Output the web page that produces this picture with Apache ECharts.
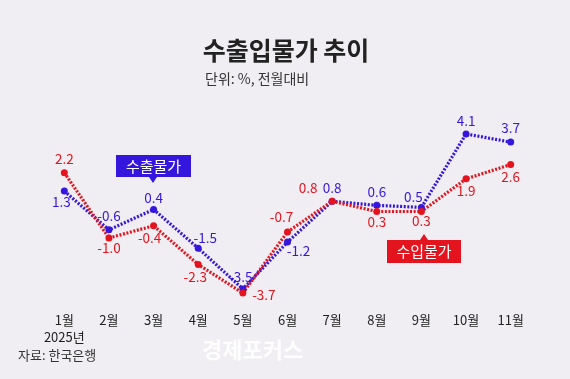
<!DOCTYPE html>
<html><head><meta charset="utf-8">
<script src="https://cdn.jsdelivr.net/npm/echarts@6/dist/echarts.min.js"></script>
<style>html,body{margin:0;padding:0;background:#f0eef2}#c{width:570px;height:379px}</style>
</head><body><div id="c"></div>
<script>
const months = ['1월','2월','3월','4월','5월','6월','7월','8월','9월','10월','11월'];
const exportPrices = [1.3,-0.6,0.4,-1.5,-3.5,-1.2,0.8,0.6,0.5,4.1,3.7];
const importPrices = [2.2,-1.0,-0.4,-2.3,-3.7,-0.7,0.8,0.3,0.3,1.9,2.6];
const exportName = '수출물가';
const importName = '수입물가';

const BLUE = '#3516dc', RED = '#e3141e';
const FONT = '"Noto Sans CJK KR", "Noto Sans", sans-serif';
// label offsets relative to point (style only)
const expOff = [[-3,11],[0,-14],[0,-12],[7,-10],[-2,-12],[11,9],[0,-13],[0,-13],[-8,-11],[0,-13],[0,-14]];
const impOff = [[0,-14],[0,10],[-4,12],[-3,12],[21,2],[-6,-15],[-24,-13],[0,10],[0,9],[0,12],[0,12]];

function mk(vals, offs){
  return vals.map((v,i)=>({value:v,label:{offset:offs[i]}}));
}
function series(name, vals, offs, color){
  return {
    name, type:'line', data: mk(vals, offs),
    symbol:'circle', symbolSize:7, itemStyle:{color},
    lineStyle:{color, width:3.2, type:[2,1.6]},
    label:{show:true, position:'inside', color, fontSize:13.5, fontFamily:FONT, letterSpacing:-0.8,
      formatter:p=>Number(p.value).toFixed(1)},
    animation:false, z:3
  };
}
const chart = echarts.init(document.getElementById('c'));
chart.setOption({
  backgroundColor:'#f0eef2',
  animation:false,
  grid:{left:42, right:37, top:115.6, bottom:79.8},
  xAxis:{type:'category', data:months, boundaryGap:true,
    axisLine:{show:false}, axisTick:{show:false},
    axisLabel:{interval:0, color:'#222', fontSize:13, fontFamily:FONT, margin:12, lineHeight:17,
      formatter:(v,i)=> i===0 ? v+'\n2025년' : v}},
  yAxis:{type:'value', min:-4, max:5, show:false, splitLine:{show:false}},
  series:[ series(exportName, exportPrices, expOff, BLUE), series(importName, importPrices, impOff, RED) ],
  graphic:[
    {type:'text', x:286, y:50, style:{text:'수출입물가 추이', font:'bold 25px '+FONT, fill:'#222', align:'center', verticalAlign:'middle'}},
    {type:'text', left:205, top:72, style:{text:'단위: %, 전월대비', font:'14px '+FONT, fill:'#333'}},
    {type:'text', left:18, top:349, style:{text:'자료: 한국은행', font:'13px '+FONT, fill:'#333'}},
    {type:'text', left:202, top:339, style:{text:'경제포커스', font:'bold 22px '+FONT, fill:'rgba(255,255,255,0.9)'}},
    {type:'rect', shape:{x:116,y:155,width:75,height:22}, style:{fill:BLUE}},
    {type:'polygon', shape:{points:[[149,177],[157,177],[153,183]]}, style:{fill:BLUE}},
    {type:'text', x:153.5, y:166, style:{text:exportName, font:'15px '+FONT, fill:'#fff', align:'center', verticalAlign:'middle'}},
    {type:'rect', shape:{x:387,y:240,width:74,height:23}, style:{fill:RED}},
    {type:'polygon', shape:{points:[[420,240],[428,240],[424,234]]}, style:{fill:RED}},
    {type:'text', x:424, y:251.5, style:{text:importName, font:'15px '+FONT, fill:'#fff', align:'center', verticalAlign:'middle'}}
  ]
});
</script></body></html>
